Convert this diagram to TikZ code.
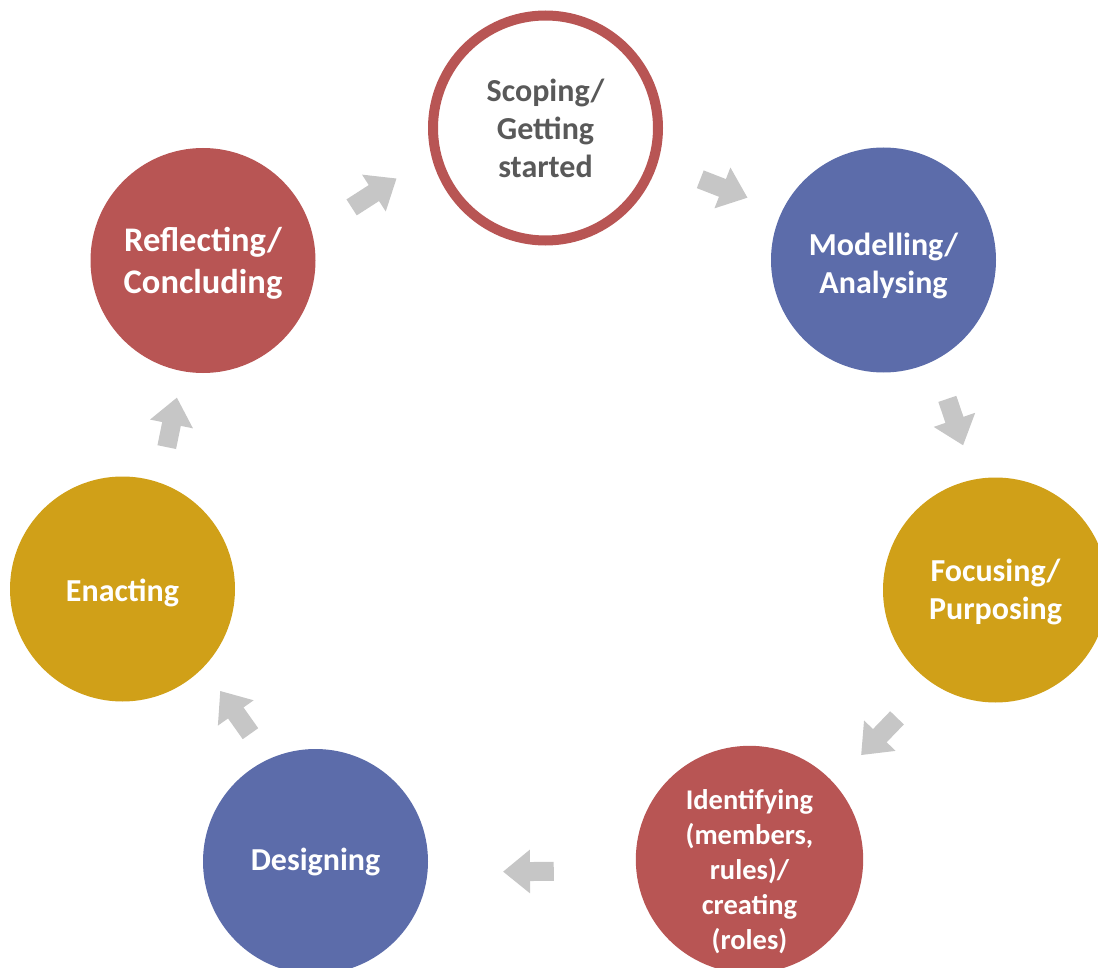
\documentclass[tikz,border=0pt]{standalone}
\usepackage{fontspec}
\setmainfont{Carlito}
\usetikzlibrary{arrows.meta,calc}

\definecolor{stagered}{HTML}{B85554}
\definecolor{stageblue}{HTML}{5C6CAA}
\definecolor{stagegold}{HTML}{D0A018}
\definecolor{flowgray}{HTML}{C6C6C6}
\definecolor{textgray}{HTML}{595959}

\begin{document}
\begin{tikzpicture}[
    x=1pt, y=-1pt,
    stage/.style={circle, minimum size=225pt, inner sep=0pt, align=center,
                  text=white, font=\bfseries\fontsize{32}{38}\selectfont},
    large/.style={font=\bfseries\fontsize{34.5}{42}\selectfont},
    small/.style={font=\bfseries\fontsize{28.5}{35}\selectfont},
    flow/.style={flowgray, line width=19pt,
                 -{Triangle[length=27pt,width=42pt]}},
]
  \useasboundingbox (0,0) rectangle (1098,968);
  \clip (0,0) rectangle (1098,968);

  % Cycle nodes
  \node[stage,draw=stagered,line width=10pt,fill=white,text=textgray] (scoping)
    at (545.5,128) {Scoping/\\Getting\\started};
  \node[stage,fill=stageblue,text height=72pt] (modelling) at (883.5,260)
    {Modelling/\\Analysing};
  \node[stage,fill=stagegold,text height=64pt] (focusing) at (995.5,590)
    {Focusing/\\Purposing};
  \node[stage,small,fill=stagered,text height=184pt] (identifying) at (749.5,859.5)
    {Identifying\\(members,\\rules)/\\creating\\(roles)};
  \node[stage,fill=stageblue] (designing) at (315.5,861.5) {Designing};
  \node[stage,fill=stagegold,text height=30pt] (enacting) at (122.5,589) {Enacting};
  \node[stage,large,fill=stagered,text height=72pt] (reflecting) at (203,260.5)
    {Reflecting/\\Concluding};

  % Arrows
  \draw[flow] ($(reflecting)!.431!(scoping)+(1,4)$) -- ($(reflecting)!.574!(scoping)+(-3,-6)$);
  \draw[flow] ($(scoping)!.449!(modelling)+(3,-8)$) -- ($(scoping)!.589!(modelling)+(3,-8)$);
  \draw[flow] ($(modelling)!.436!(focusing)+(15,-5)$) -- ($(modelling)!.577!(focusing)+(15,-5)$);
  \draw[flow] ($(focusing)!.441!(identifying)+(10,9)$) -- ($(focusing)!.583!(identifying)+(9,8)$);
  \draw[flow] ($(identifying)!.451!(designing)+(0,11)$) -- ($(identifying)!.568!(designing)+(0,11)$);
  \draw[flow] ($(designing)!.425!(enacting)+(17,-12)$) -- ($(designing)!.582!(enacting)+(17,-12)$);
  \draw[flow] ($(enacting)!.438!(reflecting)+(9,2)$) -- ($(enacting)!.589!(reflecting)+(7,2)$);
\end{tikzpicture}
\end{document}
